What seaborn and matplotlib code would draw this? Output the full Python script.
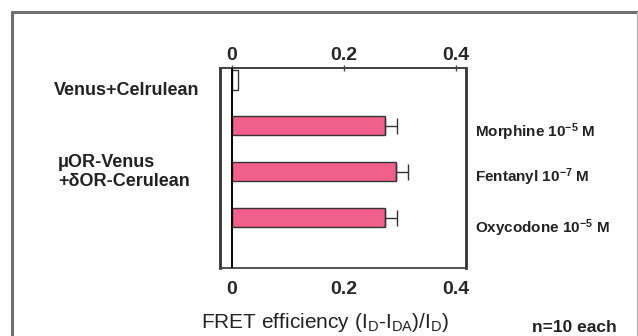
import numpy as np
import pandas as pd
import matplotlib
matplotlib.use('Agg')
import matplotlib.pyplot as plt
from matplotlib.lines import Line2D
import seaborn as sns

# data
conditions = ['Venus+Celrulean', 'Morphine', 'Fentanyl', 'Oxycodone']
fret = [0.011, 0.273, 0.293, 0.273]
fret_err = [0.0, 0.021, 0.021, 0.021]
drug_labels = ['Morphine 10$^{-5}$ M', 'Fentanyl 10$^{-7}$ M', 'Oxycodone 10$^{-5}$ M']
xticks = [0, 0.2, 0.4]
xtick_labels = ['0', '0.2', '0.4']

df = pd.DataFrame({'condition': conditions, 'fret': fret, 'err': fret_err})

sns.set_theme(style='white')
plt.rcParams['font.family'] = ['Liberation Sans', 'DejaVu Sans']
plt.rcParams['mathtext.default'] = 'regular'

W, H = 638, 336
fig = plt.figure(figsize=(W / 100, H / 100), dpi=100)
ax = fig.add_axes([220 / W, 1 - 268 / H, 246 / W, 200 / H])


def px(x, y):
    # pixel position -> figure fraction
    return x / W, 1 - y / H


pink = '#f0608a'
edge = '#333333'
sns.barplot(data=df, x='fret', y='condition', hue='condition', order=conditions,
            palette=['white', pink, pink, pink], edgecolor=edge, linewidth=1.0,
            width=0.42, saturation=1, legend=False, ax=ax, orient='h')

mask = df['err'] > 0
ypos = np.arange(len(conditions))[mask.values]
ax.errorbar(df['fret'][mask], ypos, xerr=[np.zeros(mask.sum()), df['err'][mask]],
            fmt='none', ecolor=edge, elinewidth=1.0, capsize=5.5, capthick=1.0)

ax.axvline(0, color='black', lw=1.4, zorder=5)
ax.set_xlim(-0.0214, 0.418)
ax.set_ylim(4.1, -0.26)

ax.set_xticks(xticks)
ax.set_xticklabels(xtick_labels, fontsize=14, fontweight='bold')
ax.tick_params(axis='x', direction='out', length=3, width=1,
               color='#444444', pad=6)
ax.set_yticks([])
ax.set_xlabel('')
ax.set_ylabel('')

# top axis repeats the scale
top = ax.secondary_xaxis('top')
top.set_xticks(xticks)
top.set_xticklabels(xtick_labels, fontsize=14, fontweight='bold')
top.tick_params(axis='x', direction='inout', length=4, width=1,
                color='#444444', pad=1)
top.spines['top'].set_linewidth(1.3)
top.spines['top'].set_color('#444444')

for side in ['left', 'right']:
    ax.spines[side].set_linewidth(2.0)
    ax.spines[side].set_color('#333333')
for side in ['top', 'bottom']:
    ax.spines[side].set_linewidth(1.3)
    ax.spines[side].set_color('#444444')

# left side group labels
fig.text(*px(199, 91), 'Venus+Celrulean', ha='right', va='center',
         fontsize=13, fontweight='bold', color='#222222')
fig.text(*px(58, 172), 'μOR-Venus\n+δOR-Cerulean', ha='left', va='center',
         fontsize=13, fontweight='bold', color='#222222', linespacing=1.1)

# right side drug labels
for lab, y in zip(drug_labels, [132, 177, 228]):
    fig.text(*px(475, y), lab, ha='left', va='center', fontsize=11,
             fontweight='bold', color='#222222')

fig.text(*px(325, 322), 'FRET efficiency (I$_D$-I$_{DA}$)/I$_D$)', ha='center',
         va='center', fontsize=15, color='#222222')
fig.text(*px(532, 327), 'n=10 each', ha='left', va='center', fontsize=12.5,
         fontweight='bold', color='#222222')

# outer frame of the panel
fig.add_artist(Line2D([12 / W, 12 / W], [1 - 12 / H, -0.1], transform=fig.transFigure,
                      color='#707070', lw=2.2))
fig.add_artist(Line2D([12 / W, 637 / W], [1 - 12 / H, 1 - 12 / H], transform=fig.transFigure,
                      color='#707070', lw=2.2))
fig.add_artist(Line2D([637 / W, 637 / W], [1 - 12 / H, -0.1], transform=fig.transFigure,
                      color='#bbbbbb', lw=1.0))

fig.savefig('out.png', dpi=100)
